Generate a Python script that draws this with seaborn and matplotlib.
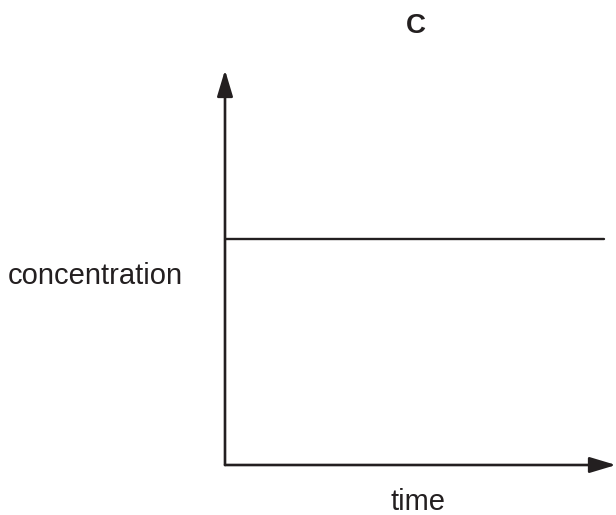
import matplotlib
matplotlib.use("Agg")
import matplotlib.pyplot as plt
import pandas as pd
import seaborn as sns

sns.set_theme(style="white")
plt.rcParams["font.family"] = ["Liberation Sans", "DejaVu Sans"]

# schematic: concentration stays constant over time
time = [0.0, 0.97]
concentration = [0.573, 0.573]
panel_label = "C"
x_label = "time"
y_label = "concentration"

INK = "#231f20"
W, H = 616, 515

df = pd.DataFrame({"time": time, "concentration": concentration})

fig = plt.figure(figsize=(W / 100, H / 100), dpi=100)
ax = fig.add_axes([225 / W, (H - 465) / H, (W - 225) / W, (465 - 70) / H])

sns.lineplot(data=df, x="time", y="concentration", color=INK, linewidth=1.7, ax=ax)
ax.set_xlim(0, 1)
ax.set_ylim(0, 1)
ax.set_axis_off()

arrow = dict(arrowstyle="-|>,head_length=0.8,head_width=0.24", mutation_scale=20,
             lw=1.9, color=INK, shrinkA=0, shrinkB=0)
ax.annotate("", xy=(1, 0), xytext=(0, 0), xycoords="axes fraction",
            textcoords="axes fraction", arrowprops=arrow, annotation_clip=False)
ax.annotate("", xy=(0, 1), xytext=(0, 0), xycoords="axes fraction",
            textcoords="axes fraction", arrowprops=arrow, annotation_clip=False)

fig.text(415.5 / W, 1 - 33 / H, panel_label, ha="center", va="baseline",
         fontsize=20, fontweight="bold", color=INK)
fig.text(95.5 / W, 1 - 284 / H, y_label, ha="center", va="baseline",
         fontsize=21, color=INK)
fig.text(418 / W, 1 - 510 / H, x_label, ha="center", va="baseline",
         fontsize=21, color=INK)

fig.savefig("out.png", dpi=100)
